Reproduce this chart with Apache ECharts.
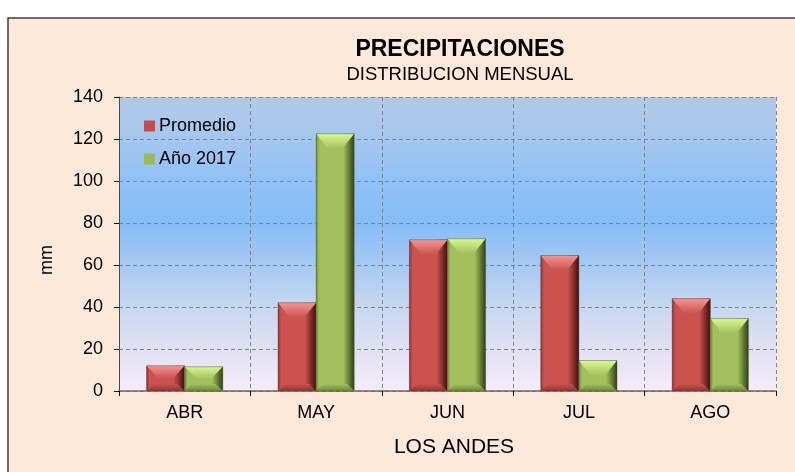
<!DOCTYPE html>
<html>
<head>
<meta charset="utf-8">
<script src="https://cdn.jsdelivr.net/npm/echarts@6/dist/echarts.min.js"></script>
<style>
  html, body { margin: 0; padding: 0; background: #fff; }
  #chart { width: 795px; height: 472px; }
</style>
</head>
<body>
<div id="chart"></div>
<script>
const categories = ["ABR", "MAY", "JUN", "JUL", "AGO"];
const promedio = [12, 42, 72, 64.5, 44];
const anio2017 = [11.5, 122.5, 72.5, 14.5, 34.5];
const seriesNames = ["Promedio", "Año 2017"];

const FONT = "Liberation Sans, Arial, sans-serif";

// colores de cada serie: cara, bisel superior, bisel inferior, lado oscuro
const palettes = [
  { face: "#cb524f", top: "#f59591", bottom: "#8a3230", dark: "#3e0f0e", legend: "#c0504d" },
  { face: "#a2c15e", top: "#d8f98e", bottom: "#6b8736", dark: "#313f16", legend: "#9bbb59" }
];

function vGrad(c0, c1) {
  return new echarts.graphic.LinearGradient(0, 0, 0, 1, [
    { offset: 0, color: c0 },
    { offset: 1, color: c1 }
  ]);
}
function hGrad(c0, c1) {
  return new echarts.graphic.LinearGradient(0, 0, 1, 0, [
    { offset: 0, color: c0 },
    { offset: 1, color: c1 }
  ]);
}

// barra con bisel (dibujada con las escalas del eje)
function makeRender(sIdx) {
  const pal = palettes[sIdx];
  return function (params, api) {
    const cat = api.value(0);
    const val = api.value(1);
    const p0 = api.coord([cat, 0]);
    const p1 = api.coord([cat, val]);
    const band = api.size([1, 0])[0];
    const w = band * 0.29;
    const x0 = sIdx === 0 ? p0[0] - w : p0[0];
    const x1 = x0 + w;
    const y0 = p1[1];
    const y1 = p0[1];
    const h = y1 - y0;
    const bt = Math.min(15, h / 2);
    const bb = Math.min(7, h / 2);
    const bx = 12;
    const br = 11;
    return {
      type: "group",
      children: [
        { type: "rect", shape: { x: x0, y: y0, width: w, height: h },
          style: { fill: pal.face } },
        { type: "rect", shape: { x: x1 - br, y: y0, width: br, height: h },
          style: { fill: hGrad(pal.face, pal.dark) } },
        { type: "rect", shape: { x: x0, y: y0, width: 3, height: h },
          style: { fill: hGrad(pal.bottom, pal.face) } },
        { type: "polygon",
          shape: { points: [[x0, y0], [x1, y0], [x1 - bx, y0 + bt], [x0 + bx, y0 + bt]] },
          style: { fill: vGrad(pal.top, pal.face) } },
        { type: "polygon",
          shape: { points: [[x0 + bx * 0.6, y1 - bb], [x1 - bx * 0.6, y1 - bb], [x1, y1], [x0, y1]] },
          style: { fill: vGrad(pal.face, pal.bottom) } },
        { type: "rect", shape: { x: x0, y: y0, width: w, height: h },
          style: { fill: "none", stroke: "rgba(90,90,90,0.45)", lineWidth: 1 } }
      ]
    };
  };
}

const chart = echarts.init(document.getElementById("chart"));

const option = {
  animation: false,
  textStyle: { fontFamily: FONT },
  graphic: [
    { type: "rect", z: -10, silent: true,
      shape: { x: 8, y: 18, width: 900, height: 600 },
      style: { fill: "#fde9d9", stroke: "#3f3f3f", lineWidth: 1.5 } },
    { type: "text", x: 460, y: 50,
      style: { text: "PRECIPITACIONES", font: "bold 23px " + FONT, fill: "#000",
               align: "center", verticalAlign: "middle" } },
    { type: "text", x: 460, y: 75,
      style: { text: "DISTRIBUCION MENSUAL", font: "18.5px " + FONT, fill: "#000",
               align: "center", verticalAlign: "middle" } },
    { type: "text", x: 454, y: 447,
      style: { text: "LOS ANDES", font: "21px " + FONT, fill: "#000",
               align: "center", verticalAlign: "middle" } },
    { type: "text", x: 47, y: 260, rotation: Math.PI / 2,
      style: { text: "mm", font: "18px " + FONT, fill: "#000", align: "center", verticalAlign: "middle" } }
  ],
  legend: {
    orient: "vertical",
    left: 144,
    top: 117,
    padding: 0,
    itemWidth: 11,
    itemHeight: 11,
    itemGap: 15,
    textStyle: { fontSize: 18, color: "#000", fontFamily: FONT, padding: [0, 0, 0, -1] },
    data: [
      { name: seriesNames[0], icon: "rect" },
      { name: seriesNames[1], icon: "rect" }
    ]
  },
  grid: {
    left: 119,
    right: 19,
    top: 97,
    bottom: 81,
    show: true,
    borderWidth: 0,
    backgroundColor: new echarts.graphic.LinearGradient(0, 0, 0, 1, [
      { offset: 0, color: "#b3cae6" },
      { offset: 0.14, color: "#a5c7ef" },
      { offset: 0.29, color: "#90c1f6" },
      { offset: 0.43, color: "#87bdf7" },
      { offset: 0.57, color: "#a6c9f2" },
      { offset: 0.71, color: "#c6d7ef" },
      { offset: 0.86, color: "#e1e1f4" },
      { offset: 1, color: "#f6ecf8" }
    ])
  },
  xAxis: {
    type: "category",
    data: categories,
    boundaryGap: true,
    axisLine: { show: true, lineStyle: { color: "#6b6b6b", width: 1.5 } },
    axisTick: { show: true, length: 5, inside: false, lineStyle: { color: "#000" } },
    axisLabel: { color: "#000", fontSize: 18, margin: 13, interval: 0 },
    splitLine: { show: true, interval: 0, lineStyle: { type: [4, 3], color: "#7d8794", width: 1 } }
  },
  yAxis: {
    type: "value",
    min: 0,
    max: 140,
    interval: 20,
    axisLine: { show: true, lineStyle: { color: "#4a4a4a", width: 1 } },
    axisTick: { show: true, length: 5, lineStyle: { color: "#000" } },
    axisLabel: { color: "#000", fontSize: 18, margin: 16 },
    splitLine: { show: true, lineStyle: { type: [4, 3], color: "#7d8794", width: 1 } }
  },
  series: [promedio, anio2017].map(function (vals, s) {
    return {
      name: seriesNames[s],
      type: "custom",
      renderItem: makeRender(s),
      itemStyle: { color: palettes[s].legend },
      encode: { x: 0, y: 1 },
      data: vals.map(function (v, i) { return [i, v]; })
    };
  })
};

chart.setOption(option);
</script>
</body>
</html>
